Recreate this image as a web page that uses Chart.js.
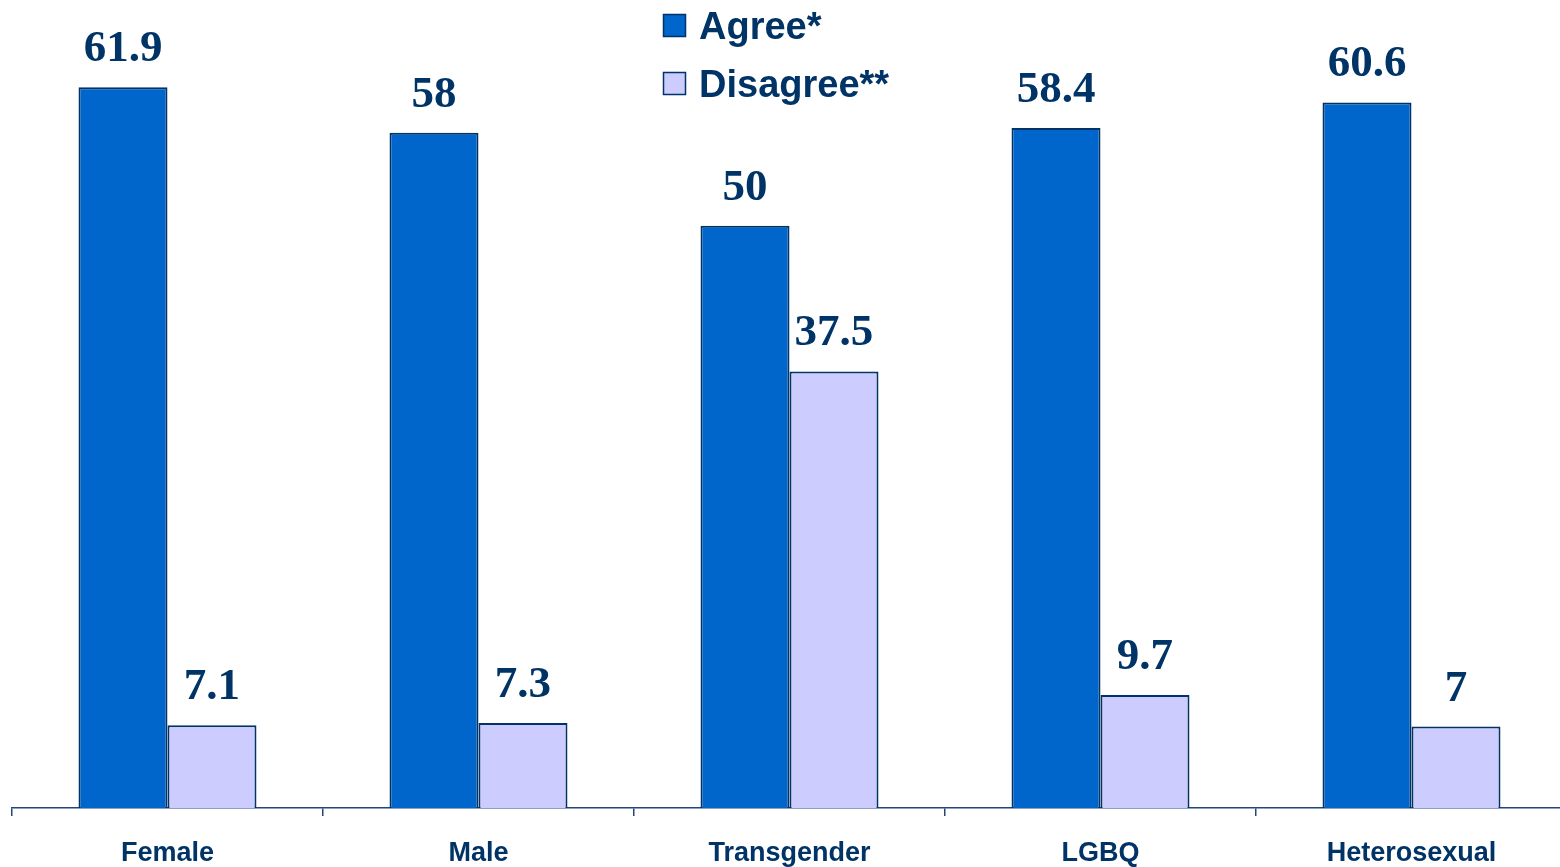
<!DOCTYPE html>
<html>
<head>
<meta charset="utf-8">
<script src="https://cdn.jsdelivr.net/npm/chart.js@4/dist/chart.umd.min.js"></script>
<style>
html,body{margin:0;padding:0;background:#fff;overflow:hidden;}
canvas{display:block;}
</style>
</head>
<body>
<canvas id="c" width="1567" height="867"></canvas>
<script>
const categories = ["Female", "Male", "Transgender", "LGBQ", "Heterosexual"];
const agreeValues = [61.9, 58, 50, 58.4, 60.6];
const disagreeValues = [7.1, 7.3, 37.5, 9.7, 7];
const seriesLabels = ["Agree*", "Disagree**"];

const NAVY = "#003366";
const AXIS = "#24457a";

const valueLabels = {
  id: "valueLabels",
  afterDatasetsDraw(chart) {
    const ctx = chart.ctx;
    ctx.save();
    ctx.font = "bold 45px 'Liberation Serif', 'Times New Roman', serif";
    ctx.fillStyle = NAVY;
    ctx.textAlign = "center";
    ctx.textBaseline = "alphabetic";
    chart.data.datasets.forEach((ds, di) => {
      chart.getDatasetMeta(di).data.forEach((bar, i) => {
        ctx.fillText(String(ds.data[i]), bar.x, bar.y - 26);
      });
    });
    ctx.restore();
  }
};

const customLegend = {
  id: "customLegend",
  afterDraw(chart) {
    const ctx = chart.ctx;
    ctx.save();
    ctx.font = "bold 38px 'Liberation Sans', Arial, sans-serif";
    ctx.textBaseline = "alphabetic";
    ctx.textAlign = "left";
    const rows = [{sq: 14, base: 39}, {sq: 72, base: 97}];
    chart.data.datasets.forEach((ds, i) => {
      const r = rows[i];
      ctx.fillStyle = ds.backgroundColor;
      ctx.fillRect(663, r.sq, 23, 23);
      ctx.strokeStyle = NAVY;
      ctx.lineWidth = 1.5;
      ctx.strokeRect(663.5, r.sq + 0.5, 22, 22);
      ctx.fillStyle = NAVY;
      ctx.fillText(ds.label, 699, r.base);
    });
    ctx.restore();
  }
};

new Chart(document.getElementById("c"), {
  type: "bar",
  data: {
    labels: categories,
    datasets: [
      {label: seriesLabels[0], data: agreeValues, backgroundColor: "#0066CC", borderColor: NAVY, borderWidth: 2},
      {label: seriesLabels[1], data: disagreeValues, backgroundColor: "#CCCCFF", borderColor: NAVY, borderWidth: 2}
    ]
  },
  options: {
    responsive: false,
    devicePixelRatio: 1,
    animation: false,
    layout: {padding: {left: 12, right: 0, top: 0, bottom: 0}},
    datasets: {bar: {categoryPercentage: 0.5723, barPercentage: 1}},
    plugins: {legend: {display: false}, tooltip: {enabled: false}},
    scales: {
      y: {display: false, min: 0, max: 69.4},
      x: {
        offset: true,
        afterFit(s) { s.height = 59; },
        border: {display: true, color: AXIS, width: 1.5},
        grid: {display: true, offset: true, drawOnChartArea: false, drawTicks: true, tickLength: 8, color: AXIS, lineWidth: 1.5},
        ticks: {
          padding: 21,
          color: NAVY,
          font: {family: "'Liberation Sans', Arial, sans-serif", size: 27, weight: "bold"},
          maxRotation: 0
        }
      }
    }
  },
  plugins: [valueLabels, customLegend]
});
</script>
</body>
</html>
